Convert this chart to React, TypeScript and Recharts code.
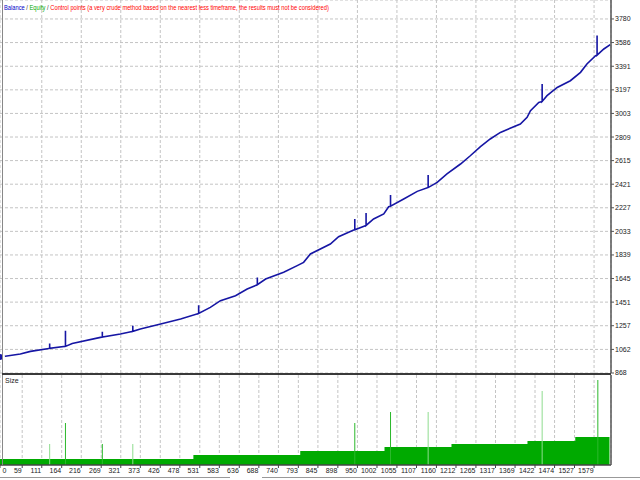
import { Area, CartesianGrid, ComposedChart, Line, XAxis, YAxis } from "recharts";

const FONT = '"Liberation Sans Narrow", "Liberation Sans", Arial, sans-serif';

// axis labels as printed by the tester
const xTickLabels = [
  0, 59, 111, 164, 216, 269, 321, 373, 426, 478, 531, 583, 636, 688, 740, 793, 845, 898, 950, 1002, 1055,
  1107, 1160, 1212, 1265, 1317, 1369, 1422, 1474, 1527, 1579
];
const yTickLabels = [868, 1062, 1257, 1451, 1645, 1839, 2033, 2227, 2421, 2615, 2809, 3003, 3197, 3391, 3586, 3780];

// balance curve (trade number -> balance)
const balanceTrades = [
  0, 54, 81, 130, 174, 192, 267, 320, 351, 373, 427, 480, 528, 559, 586, 626, 657, 684, 706, 754, 790, 807, 825,
  878, 900, 940, 971, 993, 1020, 1033, 1073, 1109, 1139, 1162, 1188, 1224, 1250, 1277, 1303, 1330, 1383, 1401,
  1410, 1432, 1454, 1481, 1516, 1543, 1560, 1583, 1605, 1622
];
const balanceValues = [
  1000, 1024, 1046, 1070, 1087, 1111, 1161, 1189, 1210, 1230, 1271, 1312, 1358, 1408, 1463, 1504, 1559, 1594, 1641,
  1696, 1751, 1778, 1847, 1929, 1989, 2044, 2080, 2135, 2176, 2236, 2299, 2362, 2395, 2436, 2505, 2587, 2655, 2730,
  2793, 2847, 2916, 2971, 3026, 3094, 3149, 3217, 3272, 3341, 3410, 3478, 3533, 3569
];

// equity spikes
const spikeTrades = [132, 174, 272, 353, 528, 684, 943, 973, 1038, 1138, 1441, 1587];
const spikeLow = [1071, 1087, 1163, 1211, 1358, 1594, 2046, 2082, 2240, 2394, 3102, 3482];
const spikeHigh = [1111, 1216, 1208, 1257, 1426, 1654, 2135, 2184, 2332, 2497, 3245, 3643];

// position size
const stepTrades = [0, 514, 798, 1022, 1200, 1402, 1529, 1620];
const stepLots = [0.06, 0.1, 0.14, 0.18, 0.21, 0.24, 0.28, 0.28];
const lotSpikeTrades = [132, 174, 272, 353, 943, 1038, 1138, 1441, 1589];
const lotSpikeValues = [0.21, 0.42, 0.21, 0.21, 0.42, 0.53, 0.53, 0.74, 0.85];
const lotSpikeLight = [true, false, false, true, false, false, true, true, false];

const balanceData = (() => {
  const rows = balanceTrades.map((t, i) => ({ trade: t, value: balanceValues[i] }));
  spikeTrades.forEach((t, i) => {
    rows.push({ trade: t, value: spikeLow[i] }, { trade: t, value: spikeHigh[i] }, { trade: t, value: spikeLow[i] });
  });
  return rows.sort((a, b) => a.trade - b.trade);
})();

const stepData = stepTrades.map((t, i) => ({ trade: t, lot: stepLots[i] }));

const spikeRows = (light: boolean) =>
  lotSpikeTrades.flatMap((t, i) =>
    lotSpikeLight[i] === light
      ? [
          { trade: t, lot: 0 },
          { trade: t, lot: lotSpikeValues[i] },
          { trade: t, lot: null }
        ]
      : []
  );

function XTick(props: any) {
  const { x, y, payload } = props;
  const first = payload.value === 0;
  return (
    <text
      x={first ? x + 2.5 : x - 0.5}
      y={y}
      dy="0.71em"
      textAnchor={first ? "start" : "end"}
      fontSize={7}
      fontFamily={FONT}
      fill="#222"
    >
      {payload.value}
    </text>
  );
}

export default function App() {
  return (
    <div style={{ position: "absolute", left: 0, top: 0, width: 640, height: 480, background: "#fff", overflow: "hidden" }}>
      <div style={{ position: "absolute", left: 0, top: 375 }}>
        <ComposedChart width={640} height={105} margin={{ top: 0, right: 0, bottom: 0, left: 0 }}>
          <CartesianGrid horizontal={false} stroke="#c4c4c4" strokeDasharray="3 2" />
          <XAxis
            dataKey="trade"
            type="number"
            domain={[0, 1624]}
            ticks={xTickLabels}
            interval={0}
            height={15}
            allowDataOverflow
            tick={(p: any) => <XTick {...p} />}
            tickSize={3}
            tickMargin={0}
            axisLine={{ stroke: "#444", strokeWidth: 1.5 }}
            tickLine={{ stroke: "#444" }}
          />
          <YAxis
            orientation="right"
            width={29}
            domain={[0, 0.9]}
            allowDataOverflow
            tick={false}
            tickLine={false}
            axisLine={{ stroke: "#555", strokeWidth: 1.5 }}
          />
          <Area
            data={stepData}
            dataKey="lot"
            type="stepAfter"
            fill="#00aa00"
            fillOpacity={1}
            stroke="none"
            isAnimationActive={false}
          />
          <Line data={spikeRows(true)} dataKey="lot" stroke="#8edc8e" strokeWidth={1} dot={false} isAnimationActive={false} />
          <Line data={spikeRows(false)} dataKey="lot" stroke="#2cb82c" strokeWidth={1} dot={false} isAnimationActive={false} />
        </ComposedChart>
      </div>

      <div style={{ position: "absolute", left: 0, top: 0 }}>
        <ComposedChart width={640} height={381} data={balanceData} margin={{ top: 0, right: 0, bottom: 8, left: 0 }}>
          <CartesianGrid stroke="#c4c4c4" strokeDasharray="3 2" />
          <XAxis dataKey="trade" type="number" domain={[0, 1624]} ticks={xTickLabels} hide allowDataOverflow />
          <YAxis
            orientation="right"
            width={29}
            domain={[868, 3936]}
            ticks={yTickLabels}
            interval={0}
            allowDataOverflow
            tick={{ fontSize: 7, fill: "#222", fontFamily: FONT }}
            tickSize={3}
            tickMargin={1}
            axisLine={{ stroke: "#555", strokeWidth: 1.5 }}
            tickLine={{ stroke: "#555" }}
          />
          <Line
            dataKey="value"
            type="linear"
            stroke="#1616a4"
            strokeWidth={1.6}
            dot={false}
            isAnimationActive={false}
          />
        </ComposedChart>
      </div>

      {/* frame */}
      <div style={{ position: "absolute", left: 2, top: 0, width: 1, height: 465, background: "#888" }} />
      <div style={{ position: "absolute", left: 2, top: 373, width: 609, height: 2, background: "#3a3a3a" }} />
      <div style={{ position: "absolute", left: 0, top: 477, width: 230, height: 1, background: "#999" }} />
      <div style={{ position: "absolute", left: 262, top: 477, width: 378, height: 1, background: "#999" }} />

      <div
        style={{
          position: "absolute",
          left: 4,
          top: 3,
          fontFamily: FONT,
          fontSize: 7,
          lineHeight: "9px",
          whiteSpace: "nowrap",
          transform: "scaleX(0.82)",
          transformOrigin: "0 0"
        }}
      >
        <span style={{ color: "#0000c8" }}>Balance</span>
        <span style={{ color: "#333" }}> / </span>
        <span style={{ color: "#00a800" }}>Equity</span>
        <span style={{ color: "#333" }}> / </span>
        <span style={{ color: "#ff0000" }}>
          Control points (a very crude method based on the nearest less timeframe, the results must not be considered)
        </span>
      </div>
      <div style={{ position: "absolute", left: 5, top: 377, fontFamily: FONT, fontSize: 7, color: "#222" }}>Size</div>
    </div>
  );
}
